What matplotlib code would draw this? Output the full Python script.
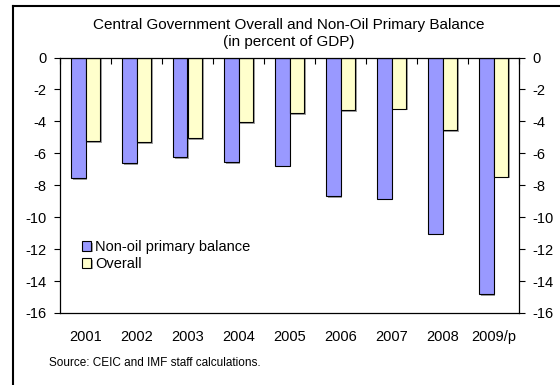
import matplotlib
matplotlib.use("Agg")
import matplotlib.pyplot as plt
import numpy as np
from matplotlib import patheffects as pe

plt.rcParams['font.family'] = ['Liberation Sans', 'DejaVu Sans']

years = ["2001", "2002", "2003", "2004", "2005", "2006", "2007", "2008", "2009/p"]
non_oil = [-7.55, -6.6, -6.25, -6.57, -6.78, -8.68, -8.84, -11.03, -14.8]
overall = [-5.25, -5.3, -5.05, -4.03, -3.47, -3.3, -3.2, -4.57, -7.47]
yticks = [0, -2, -4, -6, -8, -10, -12, -14, -16]

fig = plt.figure(figsize=(5.6, 3.85), dpi=100)
W, H = 560, 385
ax = fig.add_axes([60 / W, 1 - 313 / H, (519 - 60) / W, (313 - 57.5) / H])

x = np.arange(len(years))
bw = 0.285
shadow = [pe.SimplePatchShadow(offset=(1.2, -1.2), shadow_rgbFace='#888888', alpha=0.8), pe.Normal()]
ax.bar(x - bw / 2, non_oil, bw, color='#9999FF', edgecolor='black', linewidth=0.8,
       label='Non-oil primary balance', path_effects=shadow)
ax.bar(x + bw / 2, overall, bw, color='#FFFFCC', edgecolor='black', linewidth=0.8,
       label='Overall', path_effects=shadow)

ax.set_xlim(-0.5, len(years) - 0.5)
ax.set_ylim(-16, 0)
ax.set_yticks(yticks)
ax.set_yticklabels([str(v) for v in yticks])
ax.tick_params(axis='y', which='both', direction='out', length=4, width=0.8,
               labelsize=10.5, left=True, right=True, labelleft=True, labelright=True, pad=5.5)

ax.set_xticks(x)
ax.set_xticklabels(years)
ax.tick_params(axis='x', which='major', length=0, labelsize=10.5, pad=12)
ax.set_xticks(np.arange(len(years) + 1) - 0.5, minor=True)
ax.tick_params(axis='x', which='minor', top=True, bottom=False, direction='in', length=4, width=0.8)

for s in ax.spines.values():
    s.set_linewidth(0.9)

ax.legend(loc='upper left', bbox_to_anchor=(0.048, 0.285), frameon=False, fontsize=10.5,
          handlelength=0.62, handleheight=0.62, handletextpad=0.3, labelspacing=0.2,
          borderaxespad=0, borderpad=0)

fig.text(289 / W, 1 - 25 / H, "Central Government Overall and Non-Oil Primary Balance",
         ha='center', va='center', fontsize=11)
fig.text(289 / W, 1 - 42 / H, "(in percent of GDP)", ha='center', va='center', fontsize=11)
fig.text(49 / W, 1 - 363 / H, "Source: CEIC and IMF staff calculations.", ha='left', va='center',
         fontsize=8.5)

fig.add_artist(plt.Line2D([12.5 / W, 12.5 / W], [0, 1 - 6 / H], transform=fig.transFigure,
                          color='black', linewidth=1.5))
fig.add_artist(plt.Line2D([12.5 / W, 1], [1 - 6 / H, 1 - 6 / H], transform=fig.transFigure,
                          color='black', linewidth=1.5))

fig.savefig("out.png", dpi=100)
